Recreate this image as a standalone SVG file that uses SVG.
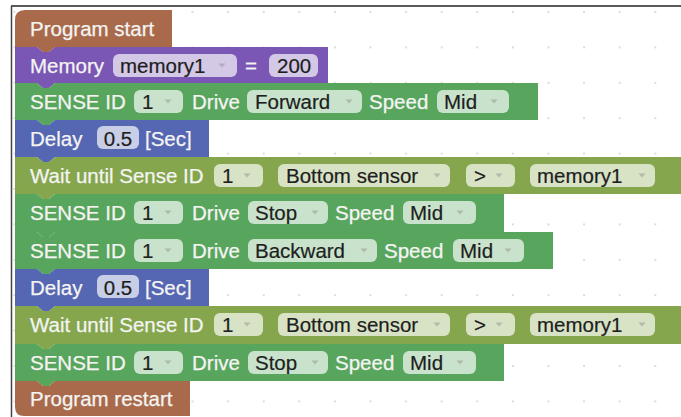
<svg xmlns="http://www.w3.org/2000/svg" width="681" height="417" viewBox="0 0 681 417">
  <style>
    .lbl { font-family: "Liberation Sans", Arial, sans-serif; font-size: 20.5px; fill: #f4f4f2; stroke: #f4f4f2; stroke-width: 0.25; }
    .ftx { font-family: "Liberation Sans", Arial, sans-serif; font-size: 20.5px; fill: #1e1e1e; stroke: #1e1e1e; stroke-width: 0.2; }
    .fld { fill: #ffffff; fill-opacity: 0.68; }
    .arr { fill: #8a8a8a; fill-opacity: 0.45; }
    .start { fill: #a96a4c; }
    .mem { fill: #7a56b5; }
    .drive { fill: #58a55e; }
    .delay { fill: #5566b2; }
    .wait { fill: #85a64d; }
  </style>
  <defs>
    <pattern id="grid" patternUnits="userSpaceOnUse" x="-3.3" y="-5.7" width="35.6" height="35.4">
      <circle cx="17.8" cy="17.7" r="1.1" fill="#d4d4d4"/>
    </pattern>
    <path id="dd" d="M-3.5,-2 h7 l-3.5,4 z"/>
  </defs>

  <!-- workspace -->
  <rect width="681" height="417" fill="#ffffff"/>
  <rect x="11" y="6" width="670" height="411" fill="url(#grid)"/>
  <line x1="11" y1="6" x2="681" y2="6" stroke="#222" stroke-width="1.5"/>
  <line x1="11.5" y1="6" x2="11.5" y2="417" stroke="#444" stroke-width="1.5"/>

  <!-- Program start -->
  <g id="program-start">
    <path class="start" d="M15,20 Q15,10 25,10 H172 V47 H55 l-6,5 h-6 l-6,-5 H15 Z"/>
    <text class="lbl" x="30" y="36">Program start</text>
  </g>

  <!-- Memory memory1 = 200 -->
  <g id="memory-set">
    <path class="mem" d="M15,47 H37 l6,5 h6 l6,-5 H328 V83 H55 l-6,5 h-6 l-6,-5 H15 Z"/>
    <text class="lbl" x="30" y="73">Memory</text>
    <rect class="fld" x="113" y="54" width="124" height="23" rx="6"/>
    <text class="ftx" x="120" y="73">memory1</text>
    <use class="arr" href="#dd" x="222" y="65.5"/>
    <text class="lbl" x="245" y="73">=</text>
    <rect class="fld" x="269" y="54" width="49" height="23" rx="6"/>
    <text class="ftx" x="277" y="73">200</text>
  </g>

  <!-- SENSE ID 1 Drive Forward Speed Mid -->
  <g id="drive-forward">
    <path class="drive" d="M15,83 H37 l6,5 h6 l6,-5 H538 V120 H55 l-6,5 h-6 l-6,-5 H15 Z"/>
    <text class="lbl" x="30" y="109">SENSE ID</text>
    <rect class="fld" x="134" y="90" width="49" height="23" rx="6"/>
    <text class="ftx" x="142" y="109">1</text>
    <use class="arr" href="#dd" x="168" y="101.5"/>
    <text class="lbl" x="192" y="109">Drive</text>
    <rect class="fld" x="247" y="90" width="115" height="23" rx="6"/>
    <text class="ftx" x="255" y="109">Forward</text>
    <use class="arr" href="#dd" x="349" y="101.5"/>
    <text class="lbl" x="369" y="109">Speed</text>
    <rect class="fld" x="437" y="90" width="72" height="23" rx="6"/>
    <text class="ftx" x="444" y="109">Mid</text>
    <use class="arr" href="#dd" x="494" y="101.5"/>
  </g>

  <!-- Delay 0.5 [Sec] -->
  <g id="delay-1">
    <path class="delay" d="M15,120 H37 l6,5 h6 l6,-5 H209 V157 H55 l-6,5 h-6 l-6,-5 H15 Z"/>
    <text class="lbl" x="30" y="146">Delay</text>
    <rect class="fld" x="97" y="126" width="42" height="23" rx="6"/>
    <text class="ftx" x="118" y="146" text-anchor="middle">0.5</text>
    <text class="lbl" x="145" y="146">[Sec]</text>
  </g>

  <!-- Wait until Sense ID 1 Bottom sensor > memory1 -->
  <g id="wait-1">
    <path class="wait" d="M15,157 H37 l6,5 h6 l6,-5 H690 V194 H55 l-6,5 h-6 l-6,-5 H15 Z"/>
    <text class="lbl" x="30" y="183">Wait until Sense ID</text>
    <rect class="fld" x="214" y="164" width="49" height="23" rx="6"/>
    <text class="ftx" x="222" y="183">1</text>
    <use class="arr" href="#dd" x="247" y="175.5"/>
    <rect class="fld" x="278" y="164" width="172" height="23" rx="6"/>
    <text class="ftx" x="286" y="183">Bottom sensor</text>
    <use class="arr" href="#dd" x="437" y="175.5"/>
    <rect class="fld" x="466" y="164" width="49" height="23" rx="6"/>
    <text class="ftx" x="474" y="183">&gt;</text>
    <use class="arr" href="#dd" x="499" y="175.5"/>
    <rect class="fld" x="530" y="164" width="125" height="23" rx="6"/>
    <text class="ftx" x="537" y="183">memory1</text>
    <use class="arr" href="#dd" x="642" y="175.5"/>
  </g>

  <!-- SENSE ID 1 Drive Stop Speed Mid -->
  <g id="drive-stop-1">
    <path class="drive" d="M15,194 H37 l6,5 h6 l6,-5 H504 V232 H55 l-6,5 h-6 l-6,-5 H15 Z"/>
    <text class="lbl" x="30" y="220">SENSE ID</text>
    <rect class="fld" x="134" y="201" width="49" height="23" rx="6"/>
    <text class="ftx" x="142" y="220">1</text>
    <use class="arr" href="#dd" x="168" y="212.5"/>
    <text class="lbl" x="192" y="220">Drive</text>
    <rect class="fld" x="248" y="201" width="80" height="23" rx="6"/>
    <text class="ftx" x="255" y="220">Stop</text>
    <use class="arr" href="#dd" x="315" y="212.5"/>
    <text class="lbl" x="335" y="220">Speed</text>
    <rect class="fld" x="403" y="201" width="73" height="23" rx="6"/>
    <text class="ftx" x="410" y="220">Mid</text>
    <use class="arr" href="#dd" x="460" y="212.5"/>
  </g>

  <!-- SENSE ID 1 Drive Backward Speed Mid -->
  <g id="drive-backward">
    <path class="drive" d="M15,232 H37 l6,5 h6 l6,-5 H553 V269 H55 l-6,5 h-6 l-6,-5 H15 Z"/>
    <text class="lbl" x="30" y="258">SENSE ID</text>
    <rect class="fld" x="134" y="239" width="49" height="23" rx="6"/>
    <text class="ftx" x="142" y="258">1</text>
    <use class="arr" href="#dd" x="168" y="250.5"/>
    <text class="lbl" x="192" y="258">Drive</text>
    <rect class="fld" x="248" y="239" width="129" height="23" rx="6"/>
    <text class="ftx" x="255" y="258">Backward</text>
    <use class="arr" href="#dd" x="364" y="250.5"/>
    <text class="lbl" x="384" y="258">Speed</text>
    <rect class="fld" x="453" y="239" width="71" height="23" rx="6"/>
    <text class="ftx" x="460" y="258">Mid</text>
    <use class="arr" href="#dd" x="508" y="250.5"/>
  </g>

  <!-- Delay 0.5 [Sec] -->
  <g id="delay-2">
    <path class="delay" d="M15,269 H37 l6,5 h6 l6,-5 H209 V306 H55 l-6,5 h-6 l-6,-5 H15 Z"/>
    <text class="lbl" x="30" y="295">Delay</text>
    <rect class="fld" x="97" y="275" width="42" height="23" rx="6"/>
    <text class="ftx" x="118" y="295" text-anchor="middle">0.5</text>
    <text class="lbl" x="145" y="295">[Sec]</text>
  </g>

  <!-- Wait until Sense ID 1 Bottom sensor > memory1 -->
  <g id="wait-2">
    <path class="wait" d="M15,306 H37 l6,5 h6 l6,-5 H690 V344 H55 l-6,5 h-6 l-6,-5 H15 Z"/>
    <text class="lbl" x="30" y="332">Wait until Sense ID</text>
    <rect class="fld" x="214" y="313" width="49" height="23" rx="6"/>
    <text class="ftx" x="222" y="332">1</text>
    <use class="arr" href="#dd" x="247" y="324.5"/>
    <rect class="fld" x="278" y="313" width="172" height="23" rx="6"/>
    <text class="ftx" x="286" y="332">Bottom sensor</text>
    <use class="arr" href="#dd" x="437" y="324.5"/>
    <rect class="fld" x="466" y="313" width="49" height="23" rx="6"/>
    <text class="ftx" x="474" y="332">&gt;</text>
    <use class="arr" href="#dd" x="499" y="324.5"/>
    <rect class="fld" x="530" y="313" width="125" height="23" rx="6"/>
    <text class="ftx" x="537" y="332">memory1</text>
    <use class="arr" href="#dd" x="642" y="324.5"/>
  </g>

  <!-- SENSE ID 1 Drive Stop Speed Mid -->
  <g id="drive-stop-2">
    <path class="drive" d="M15,344 H37 l6,5 h6 l6,-5 H504 V381 H55 l-6,5 h-6 l-6,-5 H15 Z"/>
    <text class="lbl" x="30" y="370">SENSE ID</text>
    <rect class="fld" x="134" y="351" width="49" height="23" rx="6"/>
    <text class="ftx" x="142" y="370">1</text>
    <use class="arr" href="#dd" x="168" y="362.5"/>
    <text class="lbl" x="192" y="370">Drive</text>
    <rect class="fld" x="248" y="351" width="80" height="23" rx="6"/>
    <text class="ftx" x="255" y="370">Stop</text>
    <use class="arr" href="#dd" x="315" y="362.5"/>
    <text class="lbl" x="335" y="370">Speed</text>
    <rect class="fld" x="403" y="351" width="73" height="23" rx="6"/>
    <text class="ftx" x="410" y="370">Mid</text>
    <use class="arr" href="#dd" x="460" y="362.5"/>
  </g>

  <!-- Program restart -->
  <g id="program-restart">
    <path class="start" d="M15,381 H37 l6,5 h6 l6,-5 H190 V416 H24 Q15,416 15,407 Z"/>
    <text class="lbl" x="30" y="406">Program restart</text>
  </g>
</svg>
